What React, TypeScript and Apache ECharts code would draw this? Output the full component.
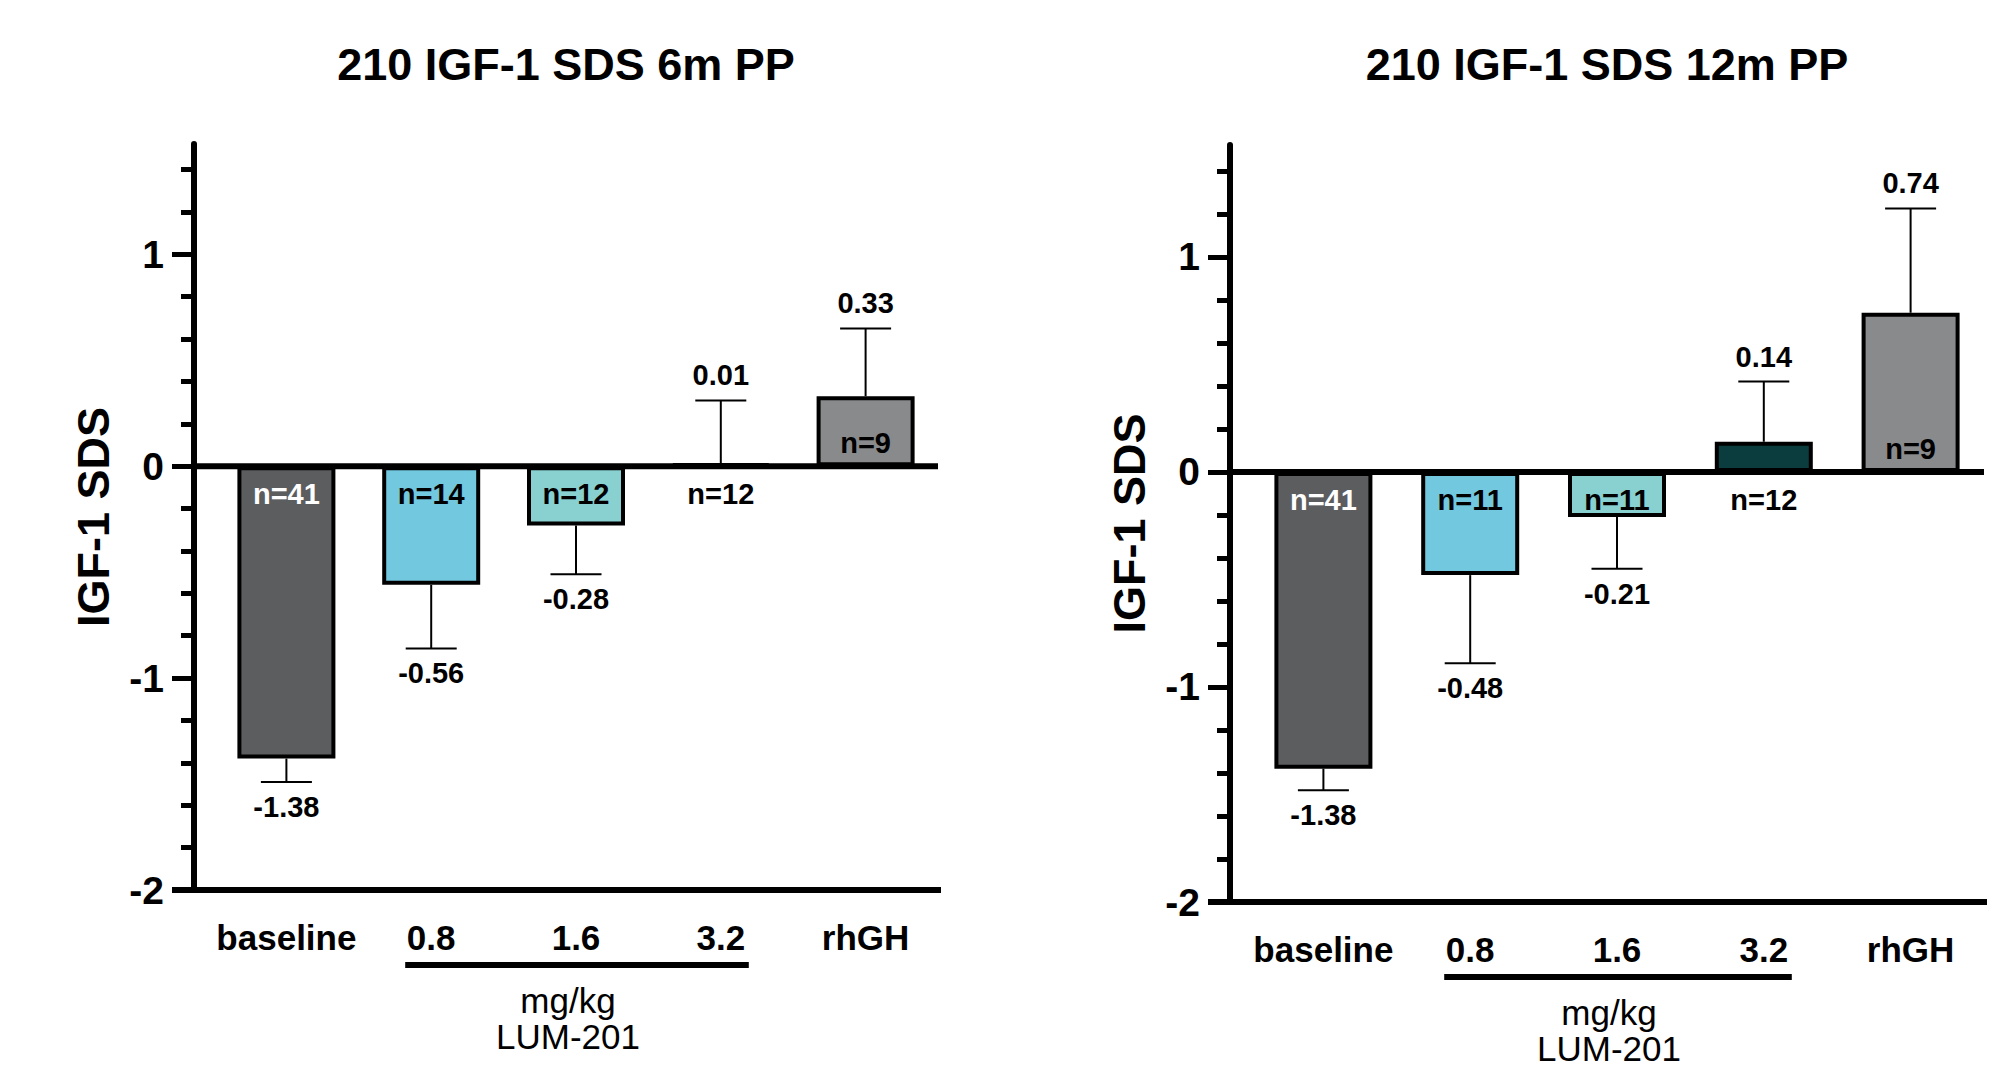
import React, { useEffect, useRef } from "react";
import * as echarts from "echarts";

const categories = ["baseline", "0.8", "1.6", "3.2", "rhGH"];
const titles = ["210 IGF-1 SDS 6m PP", "210 IGF-1 SDS 12m PP"];
const means6m = [-1.38, -0.56, -0.28, 0.01, 0.33];
const sem6m = [0.11, 0.3, 0.23, 0.3, 0.32];
const n6m = [41, 14, 12, 12, 9];
const means12m = [-1.38, -0.48, -0.21, 0.14, 0.74];
const sem12m = [0.1, 0.41, 0.24, 0.28, 0.485];
const n12m = [41, 11, 11, 12, 9];
const yMajorTicks = [-2, -1, 0, 1];
const yMinorTicks = [-1.8, -1.6, -1.4, -1.2, -0.8, -0.6, -0.4, -0.2, 0.2, 0.4, 0.6, 0.8, 1.2, 1.4];
const doseLabel = ["mg/kg", "LUM-201"];
const yAxisName = "IGF-1 SDS";
const yMin = -2;
const yMax = 1.52;

const barColors = ["#5c5d5f", "#71c8df", "#88d1d0", "#0b3d3f", "#898a8c"];
const nLabelColors = ["#ffffff", "#000000", "#000000", "#000000", "#000000"];
const FONT = "'Liberation Sans', Arial, Helvetica, sans-serif";
const AXIS_OFFSET = 20;

const panels = [
  { means: means6m, sem: sem6m, n: n6m, title: titles[0], grid: { left: 214, top: 144, width: 724, height: 746 } },
  { means: means12m, sem: sem12m, n: n12m, title: titles[1], grid: { left: 1250, top: 145, width: 734, height: 757 } },
];

function renderErr(params: any, api: any) {
  const i = api.value(0);
  const m = api.value(1);
  const e = api.value(2);
  const n = api.value(3);
  const dir = m < 0 ? -1 : 1;
  const p0 = api.coord([i, m]);
  const p1 = api.coord([i, m + dir * e]);
  const z = api.coord([i, 0]);
  const nAbove = m >= 0.3;
  const txt = { fontFamily: FONT, fontSize: 29, fontWeight: "bold", align: "center", verticalAlign: "middle" };
  return {
    type: "group",
    children: [
      { type: "line", shape: { x1: p0[0], y1: p0[1], x2: p1[0], y2: p1[1] }, style: { stroke: "#000", lineWidth: 2 } },
      { type: "line", shape: { x1: p1[0] - 25.5, y1: p1[1], x2: p1[0] + 25.5, y2: p1[1] }, style: { stroke: "#000", lineWidth: 2 } },
      { type: "text", x: p1[0], y: p1[1] - dir * 25, style: { ...txt, text: m.toFixed(2), fill: "#000" } },
      { type: "text", x: z[0], y: z[1] + (nAbove ? -23 : 28), style: { ...txt, text: "n=" + n, fill: nLabelColors[i] } },
    ],
  };
}

export default function App() {
  const ref = useRef<HTMLDivElement>(null);
  useEffect(() => {
    if (!ref.current) return;
    const chart = echarts.init(ref.current, undefined, { renderer: "svg" });
    const yAxes: any[] = [];
    panels.forEach((p, g) => {
      yAxes.push({
        type: "value", gridIndex: g, min: yMin, max: yMax, position: "left", offset: AXIS_OFFSET,
        axisLine: { show: true, onZero: false, lineStyle: { color: "#000", width: 6 } },
        axisTick: { show: true, length: 22, lineStyle: { width: 5, color: "#000" }, customValues: yMajorTicks },
        axisLabel: { customValues: yMajorTicks, fontSize: 39, fontWeight: "bold", color: "#000", margin: 30, fontFamily: FONT },
        splitLine: { show: false },
        name: yAxisName, nameLocation: "middle", nameGap: 78,
        nameTextStyle: { fontSize: 45, fontWeight: "bold", color: "#000", fontFamily: FONT },
      });
      yAxes.push({
        type: "value", gridIndex: g, min: yMin, max: yMax, position: "left", offset: AXIS_OFFSET,
        axisLine: { show: false },
        axisTick: { show: true, length: 13, lineStyle: { width: 5, color: "#000" }, customValues: yMinorTicks },
        axisLabel: { show: false },
        splitLine: { show: false },
      });
    });
    const option: any = {
      animation: false,
      backgroundColor: "#ffffff",
      grid: panels.map((p) => ({ ...p.grid })),
      xAxis: panels.map((p, g) => ({
        type: "category", gridIndex: g, data: categories,
        axisLine: { show: false, onZero: false }, axisTick: { show: false },
        axisLabel: { color: "#000", fontSize: 35, fontWeight: "bold", fontFamily: FONT, margin: 30, interval: 0 },
        splitLine: { show: false },
      })),
      yAxis: yAxes,
      series: panels.flatMap((p, g) => [
        {
          type: "bar", xAxisIndex: g, yAxisIndex: g * 2, barWidth: 98, z: 2,
          itemStyle: { borderColor: "#000", borderWidth: 4 },
          data: p.means.map((v, i) => ({ value: v, itemStyle: { color: barColors[i] } })),
        },
        {
          type: "custom", xAxisIndex: g, yAxisIndex: g * 2, z: 3,
          renderItem: renderErr,
          data: p.means.map((m, i) => [i, m, p.sem[i], p.n[i]]),
        },
      ]),
    };
    chart.setOption(option);

    const gr: any[] = [];
    const lineStyle = { stroke: "#000", lineWidth: 6 };
    panels.forEach((p, gi) => {
      const yi = gi * 2;
      const y0 = chart.convertToPixel({ yAxisIndex: yi }, 0) as number;
      const yb = chart.convertToPixel({ yAxisIndex: yi }, yMin) as number;
      const axisX = p.grid.left - AXIS_OFFSET;
      const right = p.grid.left + p.grid.width;
      const xc = (i: number) => chart.convertToPixel({ xAxisIndex: gi }, categories[i]) as number;
      gr.push({ type: "line", z: 10, shape: { x1: axisX, y1: y0, x2: right, y2: y0 }, style: lineStyle });
      gr.push({ type: "line", z: 10, shape: { x1: axisX - 22, y1: yb, x2: right + 3, y2: yb }, style: lineStyle });
      const uy = yb + 75;
      gr.push({ type: "line", z: 10, shape: { x1: xc(1) - 26, y1: uy, x2: xc(3) + 28, y2: uy }, style: lineStyle });
      const tx = xc(2) - 8;
      gr.push({
        type: "text", z: 10, x: tx, y: uy + 53,
        style: {
          text: doseLabel.join("\n"), fontFamily: FONT, fontSize: 35, lineHeight: 36, fill: "#000",
          align: "center", verticalAlign: "middle",
        },
      });
      gr.push({
        type: "text", z: 10, x: (axisX + right) / 2, y: 64,
        style: { text: p.title, fontFamily: FONT, fontSize: 45, fontWeight: "bold", fill: "#000", align: "center", verticalAlign: "middle" },
      });
    });
    chart.setOption({ graphic: gr });

    return () => chart.dispose();
  }, []);
  return <div ref={ref} style={{ position: "fixed", left: 0, top: 0, width: 2003, height: 1070, background: "#fff" }} />;
}
